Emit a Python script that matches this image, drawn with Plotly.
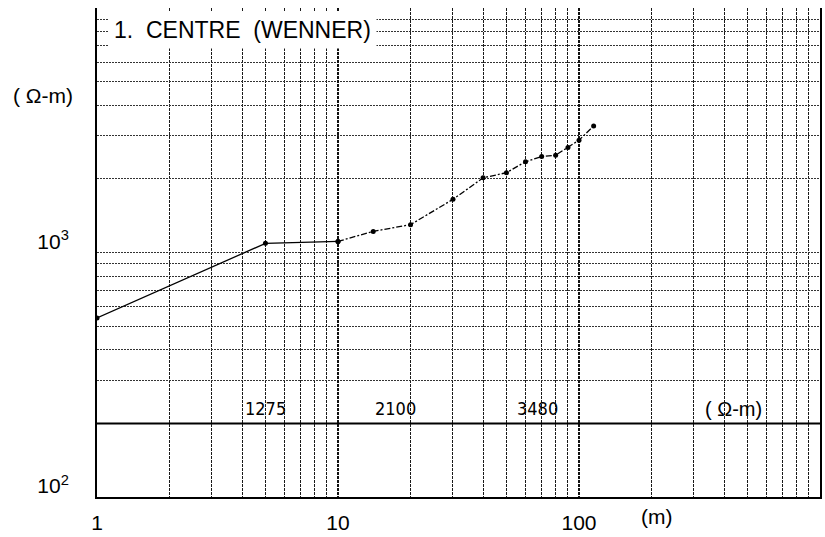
import numpy as np
import plotly.graph_objects as go

# Wenner sounding at the centre station: electrode spacing (m) vs apparent resistivity (ohm-m)
spacing_m = [1, 5, 10, 14, 20, 30, 40, 50, 60, 70, 80, 90, 100, 115]
rho_app = [540, 1090, 1110, 1220, 1300, 1650, 2020, 2120, 2350, 2470, 2500, 2690, 2880, 3290]
n_solid = 3  # first readings joined with a solid line, the rest dashed

# Interpreted layer resistivities written along the model line
layer_rho_text = ["1275", "2100", "3480"]
layer_text_at_m = [5.0, 17.3, 67.4]
unit_text_at_m = 436
model_line_rho = 200

# Axis ticks
x_tickvals = [1, 10, 100]
x_ticktext = ["1", "10", "100"]
y_tickvals = [100, 1000, 10000]
y_ticktext = ["10<sup>2</sup>", "10<sup>3</sup>", ""]

x_minor = [m * 10 ** d for d in range(3) for m in range(2, 10)]
y_minor = [m * 10 ** d for d in range(2, 4) for m in range(2, 10)]

FONT = "Liberation Sans, Arial, Helvetica, sans-serif"
NARROW = "Liberation Sans Narrow, DejaVu Sans Condensed, Arial Narrow, sans-serif"

fig = go.Figure()

# model baseline
fig.add_trace(go.Scatter(
    x=[1, 1000], y=[model_line_rho, model_line_rho], mode="lines",
    line=dict(color="black", width=2), hoverinfo="skip", showlegend=False))

# sounding curve
fig.add_trace(go.Scatter(
    x=spacing_m[:n_solid], y=rho_app[:n_solid], mode="lines+markers",
    line=dict(color="black", width=1.3), marker=dict(color="black", size=5),
    showlegend=False))
fig.add_trace(go.Scatter(
    x=spacing_m[n_solid - 1:], y=rho_app[n_solid - 1:], mode="lines+markers",
    line=dict(color="black", width=1.3, dash="6px,2px,2px,2px"),
    marker=dict(color="black", size=5), showlegend=False))

fig.update_xaxes(
    type="log", range=[0, 3],
    tickmode="array", tickvals=x_tickvals, ticktext=x_ticktext,
    ticks="", ticklabelstandoff=6,
    tickfont=dict(family=FONT, size=21, color="black"),
    showgrid=True, gridcolor="#111", gridwidth=1.5, griddash="3px,1px",
    minor=dict(tickvals=x_minor, showgrid=True, gridcolor="#1a1a1a",
               gridwidth=1.2, griddash="3px,1px"),
    showline=True, linecolor="black", linewidth=2, zeroline=False,
)
fig.update_yaxes(
    type="log", range=[2, 4],
    tickmode="array", tickvals=y_tickvals, ticktext=y_ticktext,
    ticks="", ticklabelstandoff=22, ticklabelshift=-11,
    tickfont=dict(family=FONT, size=21, color="black"),
    showgrid=True, gridcolor="#333", gridwidth=1, griddash="2px,1px",
    minor=dict(tickvals=y_minor, showgrid=True, gridcolor="#333",
               gridwidth=1, griddash="2px,1px"),
    showline=True, linecolor="black", linewidth=2, mirror=True, zeroline=False,
)

annotations = []
for txt, xm in zip(layer_rho_text, layer_text_at_m):
    annotations.append(dict(
        x=np.log10(xm), y=np.log10(model_line_rho), xref="x", yref="y",
        xanchor="center", yanchor="bottom", yshift=2,
        text=txt, showarrow=False,
        font=dict(family=NARROW, size=18, color="black")))
annotations.append(dict(
    x=np.log10(unit_text_at_m), y=np.log10(model_line_rho), xref="x", yref="y",
    xanchor="center", yanchor="bottom", yshift=1,
    text="( \u03a9-m)", showarrow=False,
    font=dict(family=FONT, size=20, color="black")))

annotations += [
    # title box masks the grid behind it
    dict(x=(108 - 97) / 725, y=(500 - 30) / 492, xref="paper", yref="paper",
         xanchor="left", yanchor="middle", showarrow=False,
         text="1.&nbsp;&nbsp;CENTRE&nbsp;&nbsp;(WENNER)",
         font=dict(family=FONT, size=23, color="black"),
         bgcolor="white", borderpad=5),
    # y-axis unit in the left margin
    dict(x=(43 - 97) / 725, y=(500 - 96) / 492, xref="paper", yref="paper",
         xanchor="center", yanchor="middle", showarrow=False,
         text="( \u03a9-m)", font=dict(family=FONT, size=21, color="black")),
    # x-axis unit beside the tick labels
    dict(x=(658 - 97) / 725, y=-0.04, xref="paper", yref="paper",
         xanchor="center", yanchor="middle", showarrow=False, text="(m)",
         font=dict(family=FONT, size=21, color="black")),
]

fig.update_layout(
    width=825, height=537,
    margin=dict(l=97, r=3, t=8, b=37),
    paper_bgcolor="white", plot_bgcolor="white",
    annotations=annotations,
    showlegend=False,
)

fig.write_html("out.html")
